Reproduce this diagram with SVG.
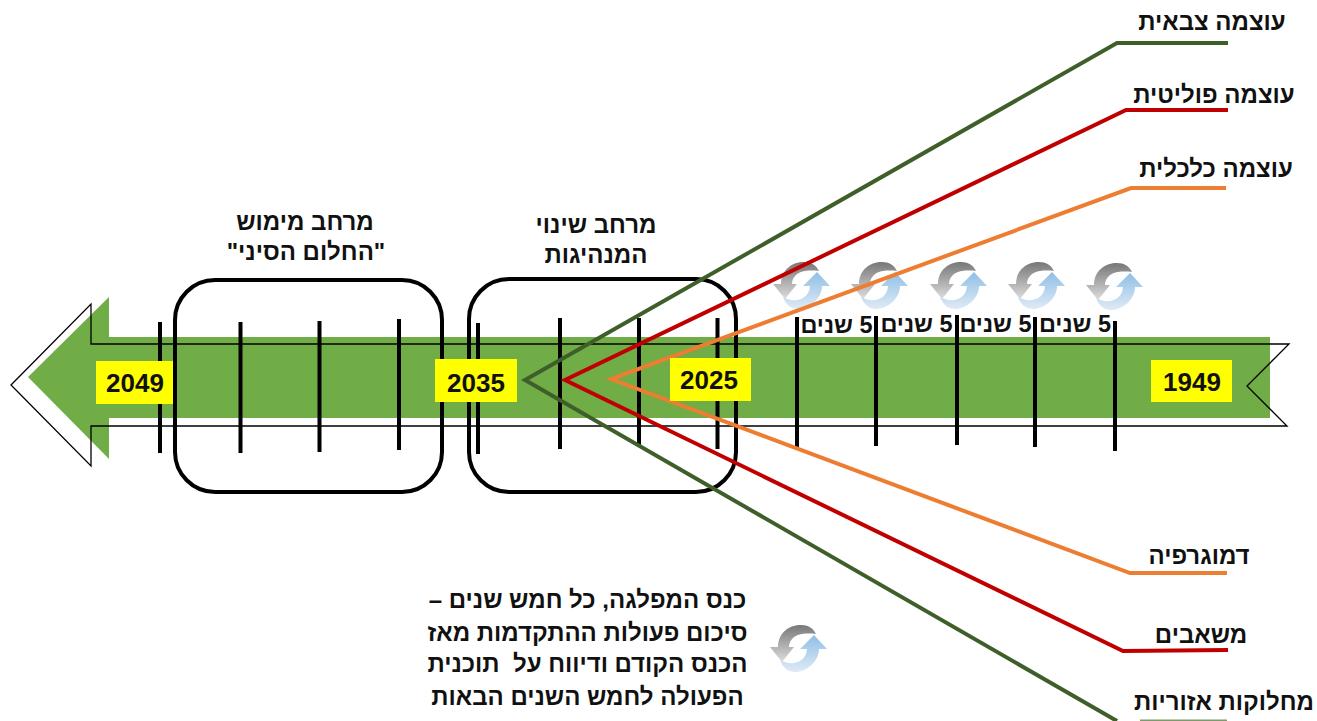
<svg xmlns="http://www.w3.org/2000/svg" xmlns:xlink="http://www.w3.org/1999/xlink" width="1317" height="721" viewBox="0 0 1317 721">
<style>
text{font-family:"Liberation Sans",Arial,sans-serif;font-weight:bold;fill:#111;direction:rtl;text-anchor:middle;white-space:pre}
.t{font-size:24px}
.f{font-size:23.5px}
.y{font-size:26px;direction:ltr}
.tick{stroke:#000;stroke-width:4;fill:none}
.box{stroke:#000;stroke-width:4;fill:none}
.c{fill:none;stroke-width:4}
.yb{fill:#ff0}
</style>
<defs>
<linearGradient id="g" x1="0" y1="0" x2="0" y2="1"><stop offset="0" stop-color="#777"/><stop offset="1" stop-color="#ddd"/></linearGradient>
<linearGradient id="b" x1="0" y1="0" x2="0" y2="1"><stop offset="0" stop-color="#8fbfe6"/><stop offset="1" stop-color="#dfeaf5"/></linearGradient>
<filter id="soft" x="-20%" y="-20%" width="140%" height="140%"><feGaussianBlur stdDeviation="0.6"/></filter>
<g id="cyc" filter="url(#soft)">
<path d="M-20 -1C-20 -16 -8 -23 3 -23C10 -23 15 -20 18 -14C10 -15 -8 -16 -9 -1L-4 -1L-16 14L-28 -1Z" fill="url(#g)"/>
<path d="M21 1C21 14 8 24 -3 24C-10 24 -15 20 -18 12C-8 18 8 16 9 1L2 1L16 -13L29 1Z" fill="url(#b)"/>
</g>
</defs>
<rect width="1317" height="721" fill="#fff"/>
<g id="arrow">
<polygon points="28,377 109,297 109,337 1270,337 1270,418 109,418 109,459" fill="#70ad47"/>
<polygon points="11,385 91,304 91,344 1289,344 1247,386 1287,426 91,426 91,466" fill="none" stroke="#000" stroke-width="1.3"/>
</g>
<g id="ticks">
<path class="tick" d="M160 322V453M240.500 322V453M319.500 321V452M399 319V450M478 323V454M560 318V449M639 318V447M717.500 318V449M797 317V447M876 316V446M957 315V445M1035 317V447M1115 321V451"/>
</g>
<g id="box-1"><rect class="box" x="175" y="280" width="267" height="212" rx="40"/></g>
<g id="box-2"><rect class="box" x="469" y="279" width="267" height="213" rx="40"/></g>
<g id="cycles">
<use xlink:href="#cyc" x="801" y="285"/>
<use xlink:href="#cyc" x="879" y="285"/>
<use xlink:href="#cyc" x="958" y="285"/>
<use xlink:href="#cyc" x="1036" y="285"/>
<use xlink:href="#cyc" x="1114" y="286"/>
<use xlink:href="#cyc" x="798" y="648"/>
</g>
<g id="connectors">
<polyline class="c" stroke="#3f5f2a" points="1228,43 1117,43 525,380 1117,721"/>
<line x1="1140" y1="720.500" x2="1227" y2="720.500" stroke="#7d9a6a" stroke-width="2"/>
<polyline class="c" stroke="#c00000" points="1228,110 1126,110 565,380 1123,651 1228,650"/>
<polyline class="c" stroke="#ed7d31" points="1226,188 1131,188 611,379 1130,573 1227,573"/>
</g>
<g id="y2049"><rect class="yb" x="96" y="361" width="77" height="43"/><text class="y" x="135" y="392">2049</text></g>
<g id="y2035"><rect class="yb" x="435" y="359" width="82" height="43"/><text class="y" x="476" y="392">2035</text></g>
<g id="y2025"><rect class="yb" x="670" y="358" width="81" height="43"/><text class="y" x="709" y="389">2025</text></g>
<g id="y1949"><rect class="yb" x="1151" y="360" width="81" height="42"/><text class="y" x="1192" y="391">1949</text></g>
<g id="l1"><text class="t" x="305" y="230">מרחב מימוש</text><text class="t" x="306" y="260">"החלום הסיני"</text></g>
<g id="l2"><text class="t" x="596" y="233">מרחב שינוי</text><text class="t" x="596" y="263">המנהיגות</text></g>
<g id="years">
<text class="f" x="836.500" y="333">5 שנים</text>
<text class="f" x="916.500" y="332">5 שנים</text>
<text class="f" x="995.500" y="332">5 שנים</text>
<text class="f" x="1075" y="332">5 שנים</text>
</g>
<g id="r1"><text class="t" x="1212" y="30">עוצמה צבאית</text></g>
<g id="r2"><text class="t" x="1214" y="103">עוצמה פוליטית</text></g>
<g id="r3"><text class="t" x="1216" y="177">עוצמה כלכלית</text></g>
<g id="r4"><text class="t" x="1199" y="564">דמוגרפיה</text></g>
<g id="r5"><text class="t" x="1201" y="643">משאבים</text></g>
<g id="r6"><text class="t" x="1224" y="710">מחלוקות אזוריות</text></g>
<g id="legend">
<text class="t" x="587.500" y="608">כנס המפלגה, כל חמש שנים –</text>
<text class="t" x="587.500" y="641">סיכום פעולות ההתקדמות מאז</text>
<text class="t" x="587.500" y="672">הכנס הקודם ודיווח על  תוכנית</text>
<text class="t" x="587.500" y="705">הפעולה לחמש השנים הבאות</text>
</g>
</svg>
